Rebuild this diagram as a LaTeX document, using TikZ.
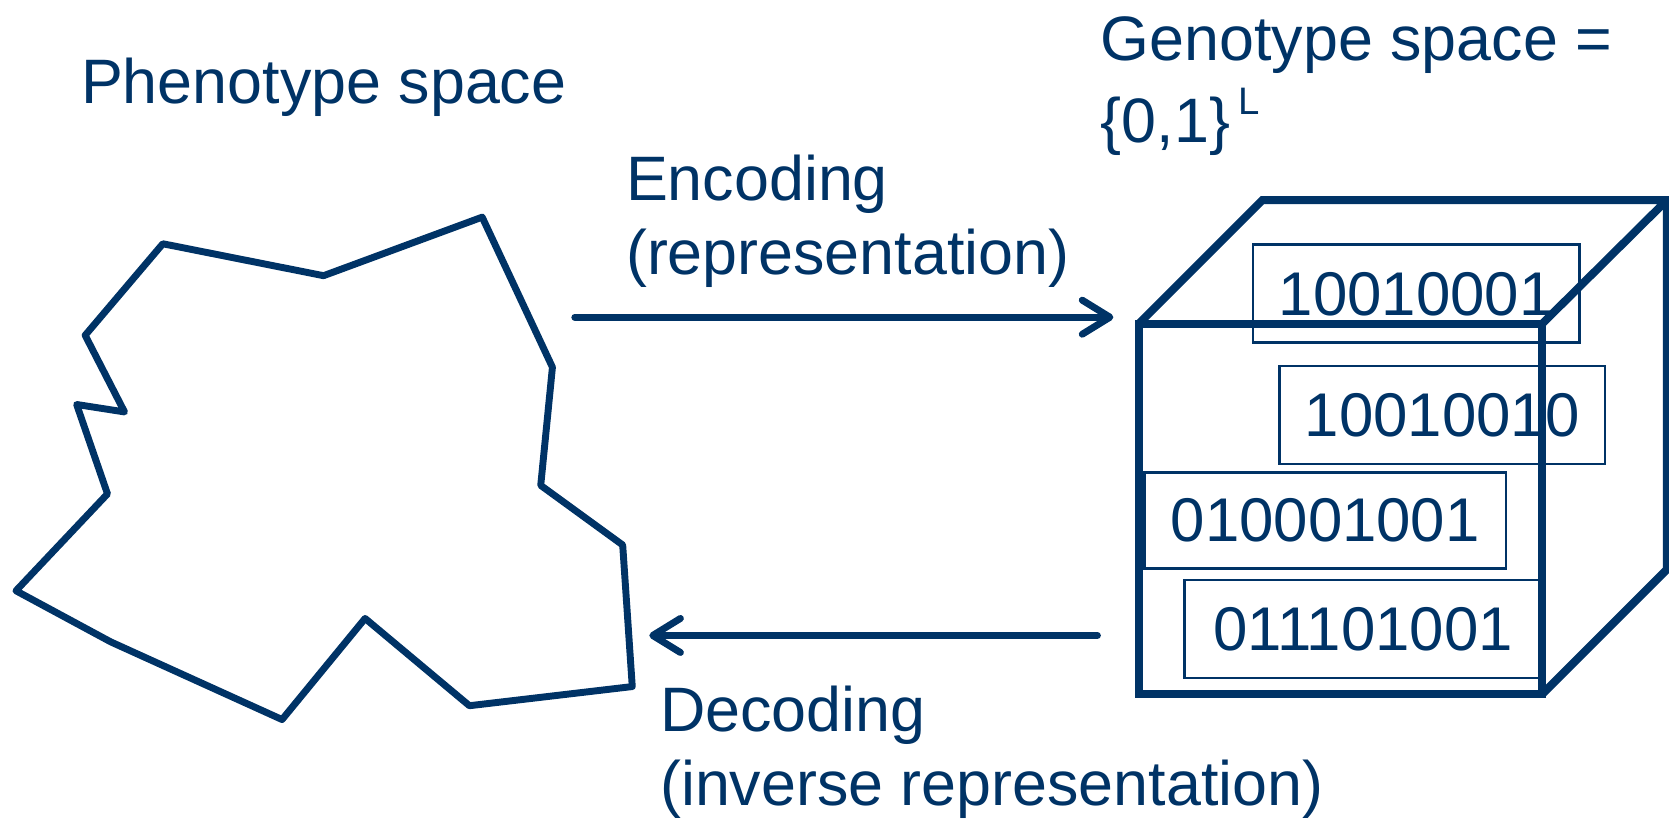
\documentclass[tikz,border=0pt]{standalone}
\usepackage{fontspec}
\setmainfont{Liberation Sans}
\usetikzlibrary{arrows.meta}
\definecolor{navy}{RGB}{0,51,102}
\newcommand{\supL}{\hspace{8pt}\raisebox{26pt}{\fontsize{36}{40}\selectfont L}}
\begin{document}
\begin{tikzpicture}[x=1pt,y=-1pt,
  every node/.style={inner sep=0pt, text=navy, font=\fontsize{59}{70}\selectfont},
  lbl/.style={anchor=base west, align=left},
  shape line/.style={draw=navy, line width=6.5pt, line join=round},
  cube line/.style={draw=navy, line width=7.5pt, line join=miter},
  bitbox/.style={draw=navy, line width=2.5pt, font=\fontsize{58}{70}\selectfont},
  arr/.style={draw=navy, line width=6.5pt, line cap=round,
    -{Straight Barb[length=26pt, width=32pt, line cap=round, line join=round]}}]
\useasboundingbox (0,0) rectangle (1568,772);

% phenotype polygon
\draw[shape line] (153,229) -- (304,259) -- (453,204) -- (519,345) -- (508,456)
  -- (585,512) -- (594,645) -- (441,663) -- (343,581) -- (265,676)
  -- (104,603) -- (15,555) -- (101,464) -- (72,380) -- (117,387) -- (80,315) -- cycle;

% labels (base anchor = baseline of the last line)
\node[lbl] (pheno) at (76,97) {Phenotype space};
\node[lbl] (geno) at (1034,134) {Genotype space =\\[7pt]\{0,1\}\supL};
\node[lbl] (enc) at (588,258) {Encoding\\(representation)};
\node[lbl] (dec) at (620,757) {Decoding\\(inverse representation)};

% cube
\coordinate (fa) at (1070,304);
\coordinate (fb) at (1449,304);
\coordinate (fc) at (1449,652);
\coordinate (fd) at (1070,652);
\coordinate (ba) at (1186,188);
\coordinate (bb) at (1566,188);
\coordinate (bc) at (1566,535);
\draw[cube line] (fa) -- (fb) -- (fc) -- (fd) -- cycle;
\draw[cube line] (fa) -- (ba) -- (bb) -- (fb);
\draw[cube line] (bb) -- (bc) -- (fc);

% bit strings
\node[bitbox, minimum width=307pt, minimum height=92pt] (b1) at (1330.5,276) {10010001};
\node[bitbox, minimum width=306pt, minimum height=92pt] (b2) at (1355,390) {10010010};
\node[bitbox, minimum width=340pt, minimum height=90pt] (b3) at (1245,489) {010001001};
\node[bitbox, minimum width=335pt, minimum height=92pt] (b4) at (1280.5,591) {011101001};

% arrows
\coordinate (encS) at (540,298);
\coordinate (encE) at (1046,298);
\coordinate (decS) at (1031,597);
\coordinate (decE) at (610,597);
\draw[arr] (encS) -- (encE);
\draw[arr] (decS) -- (decE);
\end{tikzpicture}
\end{document}
